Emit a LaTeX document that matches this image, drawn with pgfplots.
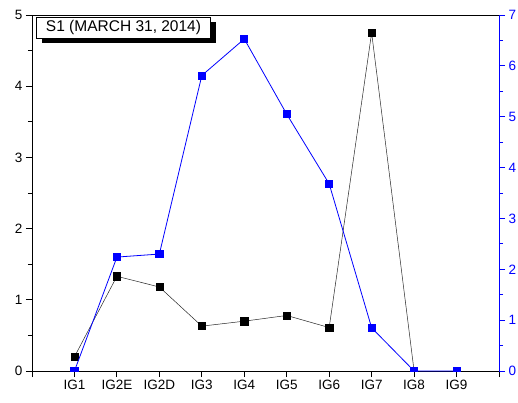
\documentclass[border=0pt]{standalone}
\usepackage{pgfplots}
\pgfplotsset{compat=1.18}
\usepackage{fontspec}
\setmainfont{Liberation Sans}
\usetikzlibrary{shadows}
\definecolor{bl}{RGB}{0,0,255}
\begin{document}
\begin{tikzpicture}
\useasboundingbox (-32pt,-31pt) rectangle (486pt,371pt);
\begin{axis}[
  scale only axis, width=467pt, height=356pt,
  at={(0pt,0pt)}, anchor=south west,
  xmin=0, xmax=11, ymin=0, ymax=5,
  xtick={1,2,3,4,5,6,7,8,9,10},
  xticklabels={IG1,IG2E,IG2D,IG3,IG4,IG5,IG6,IG7,IG8,IG9},
  extra x ticks={0,11}, extra x tick labels={},
  extra x tick style={major tick length=6pt},
  ytick={0,1,2,3,4,5}, minor ytick={0.5,1.5,2.5,3.5,4.5},
  xtick pos=bottom, ytick pos=left,
  tick align=outside,
  major tick length=6pt, minor tick length=4pt,
  axis line style={line width=0.9pt},
  every tick/.style={black, line width=0.9pt},
  tick label style={font=\fontsize{13.5}{15}\selectfont},
  /pgf/number format/assume math mode=true,
  clip=true, clip marker paths=true,
]
\addplot[black!85, line width=0.5pt, mark=square*, mark size=3.6pt, mark options={solid, black}] coordinates {
 (1,0.20) (2,1.33) (3,1.18) (4,0.63) (5,0.70) (6,0.78) (7,0.61) (8,4.75) (9,0)
};
\node[draw=black, fill=white, line width=0.6pt, anchor=north west, inner sep=2pt,
      minimum width=174pt, minimum height=21pt,
      drop shadow={shadow xshift=5pt, shadow yshift=-5pt, fill=black, opacity=1},
      font=\fontsize{15.5}{17}\selectfont]
  at (rel axis cs:0.009,0.995) {S1 (MARCH 31, 2014)};
\end{axis}
\begin{axis}[
  scale only axis, width=467pt, height=356pt,
  at={(0pt,0pt)}, anchor=south west,
  xmin=0, xmax=11, ymin=0, ymax=7,
  axis x line=none, axis y line*=right,
  ytick={0,1,2,3,4,5,6,7}, minor ytick={0.5,1.5,2.5,3.5,4.5,5.5,6.5},
  tick align=outside,
  major tick length=6pt, minor tick length=4pt,
  y axis line style={bl, line width=0.9pt},
  every tick/.style={bl, line width=0.9pt},
  yticklabel style={bl, font=\fontsize{13.5}{15}\selectfont},
  /pgf/number format/assume math mode=true,
  clip=true, clip marker paths=true,
]
\addplot[bl, line width=0.8pt, mark=square*, mark size=3.6pt, mark options={solid}] coordinates {
 (1,0) (2,2.24) (3,2.30) (4,5.81) (5,6.53) (6,5.05) (7,3.68) (8,0.85) (9,0) (10,0)
};
\end{axis}
\end{tikzpicture}
\end{document}
